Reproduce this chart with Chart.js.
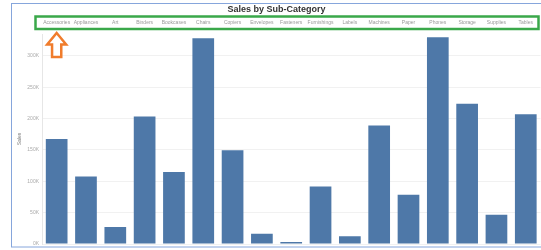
<!DOCTYPE html>
<html>
<head>
<meta charset="utf-8">
<script src="https://cdn.jsdelivr.net/npm/chart.js@4"></script>
<style>
  html, body { margin: 0; padding: 0; background: #fff; }
  #wrap { width: 541px; height: 250px; }
</style>
</head>
<body>
<div id="wrap"><canvas id="chart" width="541" height="250"></canvas></div>
<script>
const categories = ['Accessories', 'Appliances', 'Art', 'Binders', 'Bookcases', 'Chairs', 'Copiers',
  'Envelopes', 'Fasteners', 'Furnishings', 'Labels', 'Machines', 'Paper', 'Phones', 'Storage',
  'Supplies', 'Tables'];
const sales = [167400, 107500, 27100, 203400, 114900, 328400, 149500, 16500, 3000, 91700, 12500,
  189200, 78500, 330000, 223800, 46700, 207000];
const yTicks = [0, 50000, 100000, 150000, 200000, 250000, 300000];

// frame, green highlight box and orange arrow drawn on top of the chart
const decorations = {
  id: 'decorations',
  beforeDraw(chart) {
    const ctx = chart.ctx;
    ctx.save();
    ctx.fillStyle = '#fff';
    ctx.fillRect(0, 0, chart.width, chart.height);
    ctx.restore();
  },
  afterDraw(chart) {
    const ctx = chart.ctx;
    const x = chart.scales.x;
    ctx.save();
    // outer worksheet frame
    ctx.strokeStyle = '#86a6dc';
    ctx.lineWidth = 1;
    ctx.strokeRect(11.5, 3.5, chart.width, 243.5);
    // green box round the category labels
    ctx.strokeStyle = '#3aa84a';
    ctx.lineWidth = 2.5;
    ctx.strokeRect(35.5, 16.5, 503, 12.5);
    // orange arrow pointing at the first label
    const cx = x.getPixelForValue(0);
    ctx.beginPath();
    ctx.moveTo(cx, 33);
    ctx.lineTo(cx + 9.5, 44.5);
    ctx.lineTo(cx + 4.6, 44.5);
    ctx.lineTo(cx + 4.6, 57);
    ctx.lineTo(cx - 4.6, 57);
    ctx.lineTo(cx - 4.6, 44.5);
    ctx.lineTo(cx - 9.5, 44.5);
    ctx.closePath();
    ctx.fillStyle = '#fff';
    ctx.fill();
    ctx.strokeStyle = '#f07c2c';
    ctx.lineWidth = 2.5;
    ctx.lineJoin = 'miter';
    ctx.stroke();
    ctx.restore();
  }
};

new Chart(document.getElementById('chart'), {
  type: 'bar',
  data: {
    labels: categories,
    datasets: [{
      label: 'Sales',
      data: sales,
      backgroundColor: '#4e78a8',
      borderWidth: 0,
      barPercentage: 0.74,
      categoryPercentage: 1
    }]
  },
  options: {
    responsive: false,
    animation: false,
    layout: { padding: { left: 12, right: 0, top: 0, bottom: 6 } },
    plugins: {
      legend: { display: false },
      tooltip: { enabled: false },
      title: {
        display: true,
        text: 'Sales by Sub-Category',
        color: '#333',
        font: { family: 'Liberation Sans', size: 9, weight: 'bold' },
        padding: { top: 4, bottom: 2 }
      }
    },
    scales: {
      x: {
        position: 'top',
        grid: { display: false, drawTicks: false },
        border: { display: false },
        ticks: {
          autoSkip: false,
          maxRotation: 0,
          padding: 8,
          color: '#999',
          font: { family: 'Liberation Sans', size: 5 }
        },
        afterFit(scale) { scale.height = 17.2; }
      },
      y: {
        min: 0,
        max: 335000,
        afterBuildTicks(scale) { scale.ticks = yTicks.map(v => ({ value: v })); },
        grid: { color: '#f1f1f1', drawTicks: false },
        border: { display: true, color: '#e6e6e6' },
        ticks: {
          padding: 3,
          color: '#aaa',
          font: { family: 'Liberation Sans', size: 5 },
          callback: v => (v / 1000) + 'K'
        },
        title: {
          display: true,
          text: 'Sales',
          color: '#777',
          font: { family: 'Liberation Sans', size: 5 },
          padding: { top: 5, bottom: 0 }
        },
        afterFit(scale) { scale.width = 30; }
      }
    }
  },
  plugins: [decorations]
});
</script>
</body>
</html>
